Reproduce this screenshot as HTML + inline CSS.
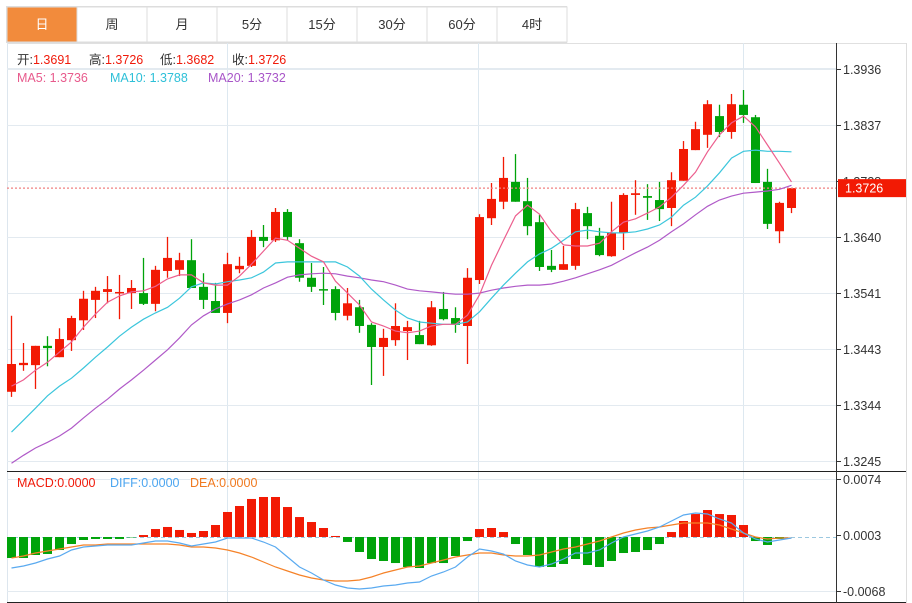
<!DOCTYPE html>
<html><head><meta charset="utf-8"><style>
html,body{margin:0;padding:0;background:#fff;width:912px;height:603px;overflow:hidden}
svg{display:block;font-family:"Liberation Sans","Noto Sans CJK SC",sans-serif}
</style></head><body>
<svg id="chart" width="912" height="603" viewBox="0 0 912 603" xmlns="http://www.w3.org/2000/svg">
<g id="tabs"></g>
<g id="grid"></g>
<g id="macdg"></g>
<g id="candles"></g>
<g id="ma"></g>
<g id="axis"></g>
<g id="legend" font-size="12.5">
<text x="17" y="64" fill="#333">开:<tspan fill="#f01a0a">1.3691</tspan></text>
<text x="89" y="64" fill="#333">高:<tspan fill="#f01a0a">1.3726</tspan></text>
<text x="160" y="64" fill="#333">低:<tspan fill="#f01a0a">1.3682</tspan></text>
<text x="232" y="64" fill="#333">收:<tspan fill="#f01a0a">1.3726</tspan></text>
<text x="17" y="82" fill="#e85a8c">MA5: 1.3736</text>
<text x="110" y="82" fill="#2ec0d8">MA10: 1.3788</text>
<text x="208" y="82" fill="#a855c8">MA20: 1.3732</text>
<text x="17" y="487" fill="#f01a0a">MACD:0.0000</text>
<text x="110" y="487" fill="#4da6f0">DIFF:0.0000</text>
<text x="190" y="487" fill="#f07a20">DEA:0.0000</text>
</g>
</svg>
<script>
const tabLabels=["日","周","月","5分","15分","30分","60分","4时"];
const priceTicks=[1.3936,1.3837,1.3738,1.3640,1.3541,1.3443,1.3344,1.3245];
const macdTicks=[74,3,-68];
const lastPrice=1.3726;
const opens=[1.3367,1.3414,1.3414,1.3448,1.3428,1.3458,1.3493,1.3529,1.3543,1.3541,1.3541,1.3541,1.3522,1.3580,1.3582,1.3599,1.3552,1.3527,1.3506,1.3583,1.3589,1.3640,1.3634,1.3684,1.3629,1.3568,1.3548,1.3548,1.3501,1.3516,1.3485,1.3446,1.3458,1.3474,1.3467,1.3449,1.3513,1.3497,1.3483,1.3564,1.3673,1.3702,1.3737,1.3703,1.3666,1.3589,1.3582,1.3589,1.3682,1.3642,1.3606,1.3647,1.3714,1.3712,1.3705,1.3691,1.3739,1.3793,1.3820,1.3853,1.3825,1.3873,1.3851,1.3737,1.3650,1.3691];
const closes=[1.3416,1.3418,1.3448,1.3444,1.3460,1.3497,1.3531,1.3545,1.3548,1.3543,1.3550,1.3522,1.3582,1.3603,1.3599,1.3550,1.3529,1.3506,1.3592,1.3589,1.3640,1.3633,1.3684,1.3640,1.3568,1.3552,1.3546,1.3506,1.3523,1.3483,1.3446,1.3462,1.3483,1.3481,1.3451,1.3516,1.3495,1.3485,1.3568,1.3675,1.3707,1.3744,1.3702,1.3659,1.3587,1.3582,1.3592,1.3689,1.3659,1.3608,1.3647,1.3714,1.3717,1.3709,1.3689,1.3740,1.3795,1.3830,1.3874,1.3825,1.3874,1.3855,1.3735,1.3663,1.3700,1.3726];
const highs=[1.3501,1.3453,1.3448,1.3465,1.3479,1.3501,1.3545,1.3552,1.3571,1.3573,1.3564,1.3603,1.3589,1.3640,1.3612,1.3636,1.3576,1.3559,1.3612,1.3605,1.3652,1.3661,1.3691,1.3689,1.3636,1.3594,1.3587,1.3553,1.3550,1.3529,1.3488,1.3478,1.3523,1.3492,1.3492,1.3527,1.3543,1.3516,1.3585,1.3680,1.3735,1.3781,1.3786,1.3744,1.3679,1.3617,1.3624,1.3700,1.3693,1.3656,1.3702,1.3717,1.3740,1.3733,1.3737,1.3754,1.3809,1.3843,1.3881,1.3873,1.3892,1.3899,1.3855,1.3760,1.3702,1.3726];
const lows=[1.3358,1.3404,1.3372,1.3412,1.3428,1.3439,1.3476,1.3497,1.3523,1.3495,1.3513,1.3520,1.3509,1.3568,1.3571,1.3550,1.3513,1.3506,1.3488,1.3576,1.3587,1.3622,1.3631,1.3634,1.3561,1.3543,1.3520,1.3493,1.3493,1.3471,1.3379,1.3395,1.3448,1.3423,1.3451,1.3448,1.3493,1.3471,1.3416,1.3557,1.3661,1.3689,1.3702,1.3643,1.3580,1.3578,1.3582,1.3582,1.3636,1.3606,1.3605,1.3617,1.3679,1.3670,1.3668,1.3659,1.3739,1.3793,1.3797,1.3816,1.3813,1.3841,1.3735,1.3654,1.3629,1.3682];
const ma5=[1.3377,1.3388,1.3405,1.3419,1.3437,1.3455,1.3481,1.3504,1.3525,1.3536,1.3543,1.3545,1.3553,1.3566,1.3573,1.3573,1.3559,1.3555,1.3555,1.3571,1.3592,1.3615,1.3638,1.3634,1.3620,1.3606,1.3596,1.3562,1.3541,1.3520,1.3490,1.3483,1.3474,1.3471,1.3474,1.3483,1.3486,1.3486,1.3502,1.3538,1.3590,1.3634,1.3677,1.3696,1.3680,1.3649,1.3626,1.3624,1.3624,1.3629,1.3649,1.3666,1.3672,1.3682,1.3693,1.3710,1.3731,1.3754,1.3790,1.3820,1.3841,1.3853,1.3834,1.3802,1.3770,1.3737];
const ma10=[1.3296,1.3317,1.3338,1.3360,1.3377,1.3391,1.3409,1.3428,1.3446,1.3465,1.3481,1.3495,1.3506,1.3516,1.3532,1.3552,1.3559,1.3557,1.3561,1.3564,1.3568,1.3578,1.3594,1.3596,1.3596,1.3596,1.3596,1.3596,1.3587,1.3571,1.3548,1.3529,1.3511,1.3497,1.3490,1.3488,1.3486,1.3486,1.3490,1.3508,1.3532,1.3555,1.3576,1.3596,1.3610,1.3620,1.3634,1.3649,1.3652,1.3649,1.3647,1.3647,1.3649,1.3654,1.3661,1.3675,1.3696,1.3710,1.3730,1.3753,1.3779,1.3791,1.3793,1.3791,1.3791,1.3790];
const ma20=[1.3241,1.3255,1.3268,1.3278,1.3289,1.3303,1.3321,1.3338,1.3354,1.3372,1.3388,1.3405,1.3423,1.3441,1.3462,1.3485,1.3501,1.3513,1.3522,1.3529,1.3538,1.3550,1.3559,1.3569,1.3573,1.3575,1.3576,1.3575,1.3571,1.3568,1.3564,1.3561,1.3555,1.3548,1.3545,1.3543,1.3541,1.3539,1.3539,1.3541,1.3546,1.3550,1.3553,1.3555,1.3555,1.3557,1.3562,1.3568,1.3575,1.3582,1.3590,1.3601,1.3612,1.3622,1.3634,1.3649,1.3663,1.3679,1.3694,1.3705,1.3712,1.3717,1.3719,1.3721,1.3724,1.3731];
const macdBars=[-26.6,-26.6,-22.8,-21.5,-16.5,-8.9,-3.8,-2.5,-2.5,-2.5,-0.5,2.5,10.1,12.7,8.9,5.1,7.6,15.2,31.7,39.3,48.2,50.7,50.7,38.0,25.3,19.0,11.4,1.3,-6.3,-19.0,-27.9,-30.4,-33.0,-38.0,-39.3,-33.0,-33.0,-24.1,-5.1,10.1,11.4,6.3,-8.9,-22.8,-38.0,-38.0,-34.2,-27.9,-35.5,-38.0,-30.4,-20.3,-19.0,-16.5,-8.9,6.3,20.3,29.1,34.2,29.1,27.9,15.2,-5.1,-10.1,-2.5,0];
const diff=[-39.3,-36.8,-33.0,-27.9,-24.1,-16.5,-12.7,-11.4,-10.1,-10.1,-10.1,-7.6,-5.1,-5.1,-7.6,-11.4,-8.9,-6.3,-1.3,-1.3,-1.3,-6.3,-12.7,-25.3,-38.0,-45.6,-54.5,-60.8,-64.6,-65.9,-64.6,-62.1,-60.8,-58.3,-57.0,-49.4,-44.4,-38.0,-25.3,-15.2,-17.7,-21.5,-30.4,-35.5,-38.0,-34.2,-27.9,-20.3,-20.3,-16.5,-7.6,0,3.8,7.6,12.7,20.3,27.9,30.4,29.1,22.8,17.7,5.1,-2.5,-6.3,-3.8,-1.3];
const dea=[-26.6,-24.1,-20.3,-17.7,-15.2,-12.7,-10.1,-10.1,-8.9,-8.9,-8.9,-8.9,-8.9,-8.9,-10.1,-12.7,-12.7,-13.9,-16.5,-20.3,-25.3,-31.7,-38.0,-43.1,-48.2,-52.0,-54.5,-55.8,-55.8,-54.5,-50.7,-45.6,-41.8,-38.0,-36.8,-33.0,-29.2,-25.3,-22.8,-20.3,-20.3,-22.8,-24.1,-24.1,-22.8,-19.0,-15.2,-12.7,-8.9,-5.1,0,5.1,8.9,11.4,12.7,15.2,17.7,17.7,17.7,15.2,10.1,5.1,0,-2.5,-1.3,-1.3];

const NS="http://www.w3.org/2000/svg";
function mk(tag,attrs,parent,text){const e=document.createElementNS(NS,tag);for(const k in attrs)e.setAttribute(k,attrs[k]);if(text!==undefined)e.textContent=text;parent.appendChild(e);return e;}
const X0=11,DX=12,RIGHT=836;
const xS=i=>X0+i*DX;
const yP=p=>69+(1.3936-p)*5673;
const yM=v=>537-v*0.789;
const RED="#f21a04",GREEN="#00a30a";

const tabs=document.getElementById('tabs');
mk('rect',{x:6.5,y:6.5,width:560,height:36,fill:'#fff',stroke:'#ddd'},tabs);
tabLabels.forEach((t,i)=>{
  const g=mk('g',{},tabs);
  
  
  const x=7+i*70;
  mk('rect',{x:x,y:7,width:70,height:35,fill:i===0?'#f28b3c':'#fff',stroke:'#ddd'},g);
  mk('text',{x:x+35,y:29,'text-anchor':'middle','font-size':13,fill:i===0?'#fff':'#333'},g,t);
});

const grid=document.getElementById('grid');
mk('line',{x1:7,y1:43.5,x2:906,y2:43.5,stroke:'#e0e0e0'},grid);
mk('line',{x1:7.5,y1:43,x2:7.5,y2:603,stroke:'#dde6ee'},grid);
mk('line',{x1:906.5,y1:43,x2:906.5,y2:603,stroke:'#ddd'},grid);
mk('line',{x1:7,y1:68.5,x2:RIGHT,y2:68.5,stroke:'#e3eaf0'},grid);
[227,478,743].forEach(x=>{const l=mk('line',{x1:x+0.5,y1:43,x2:x+0.5,y2:603,stroke:'#dde8f0'},grid);

});
priceTicks.forEach(p=>{const y=Math.round(yP(p))+0.5;mk('line',{x1:7,y1:y,x2:RIGHT,y2:y,stroke:'#e3eaf0'},grid);});
macdTicks.forEach(v=>{if(v===3)return;const y=Math.round(yM(v))+0.5;mk('line',{x1:7,y1:y,x2:RIGHT,y2:y,stroke:'#e3eaf0'},grid);});
mk('line',{x1:7,y1:471.5,x2:906,y2:471.5,stroke:'#222'},grid);
mk('line',{x1:7,y1:602.5,x2:906,y2:602.5,stroke:'#222'},grid);

const cg=document.getElementById('candles');
opens.forEach((o,i)=>{
  const c=closes[i],up=c>=o,col=up?RED:GREEN,x=xS(i);
  const g=mk('g',{},cg);
  
  
  mk('line',{x1:x+0.5,y1:yP(highs[i]),x2:x+0.5,y2:yP(lows[i]),stroke:col,'stroke-width':1.3},g);
  const t=yP(Math.max(o,c)),b=yP(Math.min(o,c));
  mk('rect',{x:x-4,y:t,width:9,height:Math.max(b-t,1.5),fill:col},g);
});
const lp=mk('line',{x1:7,y1:yP(lastPrice),x2:RIGHT,y2:yP(lastPrice),stroke:'#f08080','stroke-width':1.3,'stroke-dasharray':'2,2'},cg);



const mg=document.getElementById('ma');
function line(arr,fy,col,name,parent){
  const pts=arr.map((v,i)=>xS(i)+0.5+','+fy(v).toFixed(1)).join(' ');
  const pl=mk('polyline',{points:pts,fill:'none',stroke:col,'stroke-width':1.2},parent);
  
  
}
line(ma20,yP,'#b05ac8','ma20-line',mg);
line(ma10,yP,'#3cc6dc','ma10-line',mg);
line(ma5,yP,'#ec5f8e','ma5-line',mg);

const mcg=document.getElementById('macdg');
const zl=mk('line',{x1:7,y1:537.5,x2:RIGHT,y2:537.5,stroke:'#9cc8e0','stroke-dasharray':'4,3'},mcg);


macdBars.forEach((v,i)=>{
  const y0=yM(0),y1=yM(v);
  const r=mk('rect',{x:xS(i)-4,y:Math.min(y0,y1),width:9,height:Math.abs(y1-y0),fill:v>=0?RED:GREEN},mcg);
  
  
});
line(dea,yM,'#f58228','dea-line',mcg);
line(diff,yM,'#5aaaf0','diff-line',mcg);

const ax=document.getElementById('axis');
mk('line',{x1:836.5,y1:43,x2:836.5,y2:603,stroke:'#333'},ax);
priceTicks.forEach(p=>{
  const y=Math.round(yP(p))+0.5;
  mk('line',{x1:837,y1:y,x2:841,y2:y,stroke:'#333'},ax);
  const t=mk('text',{x:843,y:y+4.5,'font-size':12.5,fill:'#333'},ax,p.toFixed(4));
  
  
});
macdTicks.forEach(v=>{
  const y=Math.round(yM(v))+0.5;
  mk('line',{x1:837,y1:y,x2:841,y2:y,stroke:'#333'},ax);
  const t=mk('text',{x:843,y:y+4.5,'font-size':12.5,fill:'#333'},ax,(v/10000).toFixed(4));
  
  
});
const lb=mk('g',{},ax);


const ly=yP(lastPrice);
mk('rect',{x:838,y:ly-9,width:68,height:18,fill:'#f21a04'},lb);
mk('text',{x:845,y:ly+4.5,'font-size':12.5,fill:'#fff'},lb,lastPrice.toFixed(4));
</script>
</body></html>
